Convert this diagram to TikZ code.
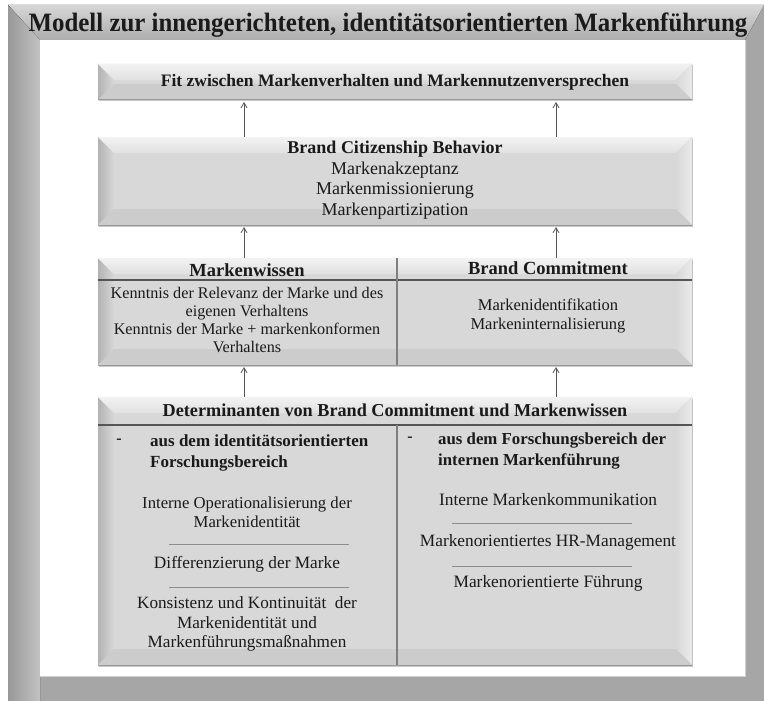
\documentclass[tikz,border=0pt]{standalone}
\usepackage{fontspec}
\setmainfont{Liberation Serif}
\newfontfamily\titlefont{Liberation Serif}[FakeStretch=0.94]
\usetikzlibrary{arrows.meta,calc,shadows}
\definecolor{boxgray}{HTML}{D8D8D8}
\definecolor{framegray}{HTML}{A6A6A6}
\definecolor{txtcol}{HTML}{1A1A1A}
\definecolor{linegray}{HTML}{555555}
\tikzset{
  bevel/.style={draw=none, fill=boxgray, inner sep=0pt, outer sep=0pt,
    drop shadow={shadow xshift=1pt, shadow yshift=-1.5pt, opacity=0.35, fill=black!60},
    path picture={
      \coordinate (pnw) at (path picture bounding box.north west);
      \coordinate (pne) at (path picture bounding box.north east);
      \coordinate (psw) at (path picture bounding box.south west);
      \coordinate (pse) at (path picture bounding box.south east);
      \fill[left color=black!30, right color=boxgray] (pnw) -- ($(pnw)+(16,16)$) -- ($(psw)+(16,-16)$) -- (psw) -- cycle;
      \fill[top color=black!5, bottom color=black!12] (pnw) -- (pne) -- ($(pne)+(-16,16)$) -- ($(pnw)+(16,16)$) -- cycle;
      \fill[left color=boxgray, right color=black!8] (pne) -- (pse) -- ($(pse)+(-16,-16)$) -- ($(pne)+(-16,16)$) -- cycle;
      \fill[black!20] (psw) -- (pse) -- ($(pse)+(-16,-16)$) -- ($(psw)+(16,-16)$) -- cycle;
      \draw[black!40, line width=1pt] (psw) -- (pse) -- (pne);
    }},
  txt/.style={inner sep=0pt, text=txtcol, align=center},
  arr/.style={draw=linegray, line width=0.8pt, -{Straight Barb[length=5pt,width=6pt]}},
  divline/.style={draw=linegray, line width=1.1pt},
  sepline/.style={draw=black!45, line width=0.6pt}
}
\begin{document}
\begin{tikzpicture}[x=1pt,y=-1pt]
\useasboundingbox (0,0) rectangle (764,701);
\fill[white] (0,0) rectangle (764,701);
% outer frame
\fill[framegray] (8,5) rectangle (764,701);
\fill[top color=black!16, bottom color=black!32] (8,5) -- (764,5) -- (745,40) -- (40,40) -- cycle;
\fill[left color=black!40, right color=black!24] (8,5) -- (40,40) -- (40,701) -- (8,701) -- cycle;
\fill[white] (40,40) rectangle (745,676);
\draw[black!18, line width=1pt] (40,676) -- (745,676) -- (745,40);
\node[txt, anchor=base, font=\titlefont\bfseries\fontsize{26.5}{30}\selectfont] (title) at (388,32) {Modell zur innengerichteten, identitätsorientierten Markenführung};

% boxes
\node[bevel, minimum width=594pt, minimum height=36pt] (b1) at (395,82) {};
\node[bevel, minimum width=594pt, minimum height=88pt] (b2) at (395,181) {};
\node[bevel, minimum width=594pt, minimum height=107pt] (b3) at (395,311.5) {};
\node[bevel, minimum width=594pt, minimum height=268pt] (b4) at (395,531) {};

% arrows
\coordinate (ax1) at (244,0);
\coordinate (ax2) at (556,0);
\draw[arr] (b2.north -| ax1) -- ($(b1.south -| ax1)+(0,2)$);
\draw[arr] (b2.north -| ax2) -- ($(b1.south -| ax2)+(0,2)$);
\draw[arr] (b3.north -| ax1) -- ($(b2.south -| ax1)+(0,2)$);
\draw[arr] (b3.north -| ax2) -- ($(b2.south -| ax2)+(0,2)$);
\draw[arr] (b4.north -| ax1) -- ($(b3.south -| ax1)+(0,2)$);
\draw[arr] (b4.north -| ax2) -- ($(b3.south -| ax2)+(0,2)$);

% box 1
\node[txt, font=\bfseries\fontsize{17.5}{20}\selectfont] (t1) at (395,82) {Fit zwischen Markenverhalten und Markennutzenversprechen};

% box 2
\node[txt, font=\fontsize{18}{20.5}\selectfont] (t2) at (395,180) {\textbf{Brand Citizenship Behavior}\\Markenakzeptanz\\Markenmissionierung\\Markenpartizipation};

% box 3
\coordinate (h3) at (395,280);
\draw[divline] (b3.west |- h3) -- (b3.east |- h3);
\draw[divline, black!50, line width=1.6pt] ($(b3.north)+(2,0)$) -- ($(b3.south)+(2,0)$);
\node[txt, font=\bfseries\fontsize{18.5}{20}\selectfont] (t3a) at (247,270) {Markenwissen};
\node[txt, font=\bfseries\fontsize{18.5}{20}\selectfont] (t3b) at (548,268) {Brand Commitment};
\node[txt, font=\fontsize{16.2}{18}\selectfont] (t3c) at (247,320) {Kenntnis der Relevanz der Marke und des\\eigenen Verhaltens\\Kenntnis der Marke + markenkonformen\\Verhaltens};
\node[txt, font=\fontsize{16.5}{18.5}\selectfont] (t3d) at (548,316) {Markenidentifikation\\Markeninternalisierung};

% box 4
\coordinate (h4) at (395,425);
\draw[divline] (b4.west |- h4) -- (b4.east |- h4);
\draw[divline, black!50, line width=1.6pt] ($(h4)+(2,0)$) -- ($(b4.south)+(2,0)$);
\node[txt, font=\bfseries\fontsize{18.2}{20}\selectfont] (t4) at (395,410) {Determinanten von Brand Commitment und Markenwissen};

\node[txt, font=\bfseries\fontsize{16}{20}\selectfont] (d1) at (119,441) {-};
\node[txt, anchor=west, align=left, font=\bfseries\fontsize{17}{21}\selectfont] (l1) at (150,453) {aus dem identitätsorientierten\\Forschungsbereich};
\node[txt, font=\bfseries\fontsize{16}{20}\selectfont] (d2) at (410,439) {-};
\node[txt, anchor=west, align=left, font=\bfseries\fontsize{16.8}{21}\selectfont] (r1) at (438,451) {aus dem Forschungsbereich der\\internen Markenführung};

\node[txt, font=\fontsize{16.7}{19}\selectfont] (l2) at (247,512) {Interne Operationalisierung der\\Markenidentität};
\coordinate (ls1a) at (169,544); \coordinate (ls1b) at (349,544);
\draw[sepline] (ls1a) -- (ls1b);
\node[txt, font=\fontsize{17.3}{19}\selectfont] (l3) at (247,564) {Differenzierung der Marke};
\coordinate (ls2a) at (169,587); \coordinate (ls2b) at (349,587);
\draw[sepline] (ls2a) -- (ls2b);
\node[txt, font=\fontsize{17.2}{19.5}\selectfont] (l4) at (247,624) {Konsistenz und Kontinuität\ \ der\\Markenidentität und\\Markenführungsmaßnahmen};

\node[txt, font=\fontsize{17.4}{19}\selectfont] (r2) at (548,500) {Interne Markenkommunikation};
\coordinate (rs1a) at (452,523); \coordinate (rs1b) at (632,523);
\draw[sepline] (rs1a) -- (rs1b);
\node[txt, font=\fontsize{17.3}{19}\selectfont] (r3) at (548,542) {Markenorientiertes HR-Management};
\coordinate (rs2a) at (452,566); \coordinate (rs2b) at (632,566);
\draw[sepline] (rs2a) -- (rs2b);
\node[txt, font=\fontsize{17.4}{19}\selectfont] (r4) at (548,583) {Markenorientierte Führung};
\end{tikzpicture}
\end{document}
